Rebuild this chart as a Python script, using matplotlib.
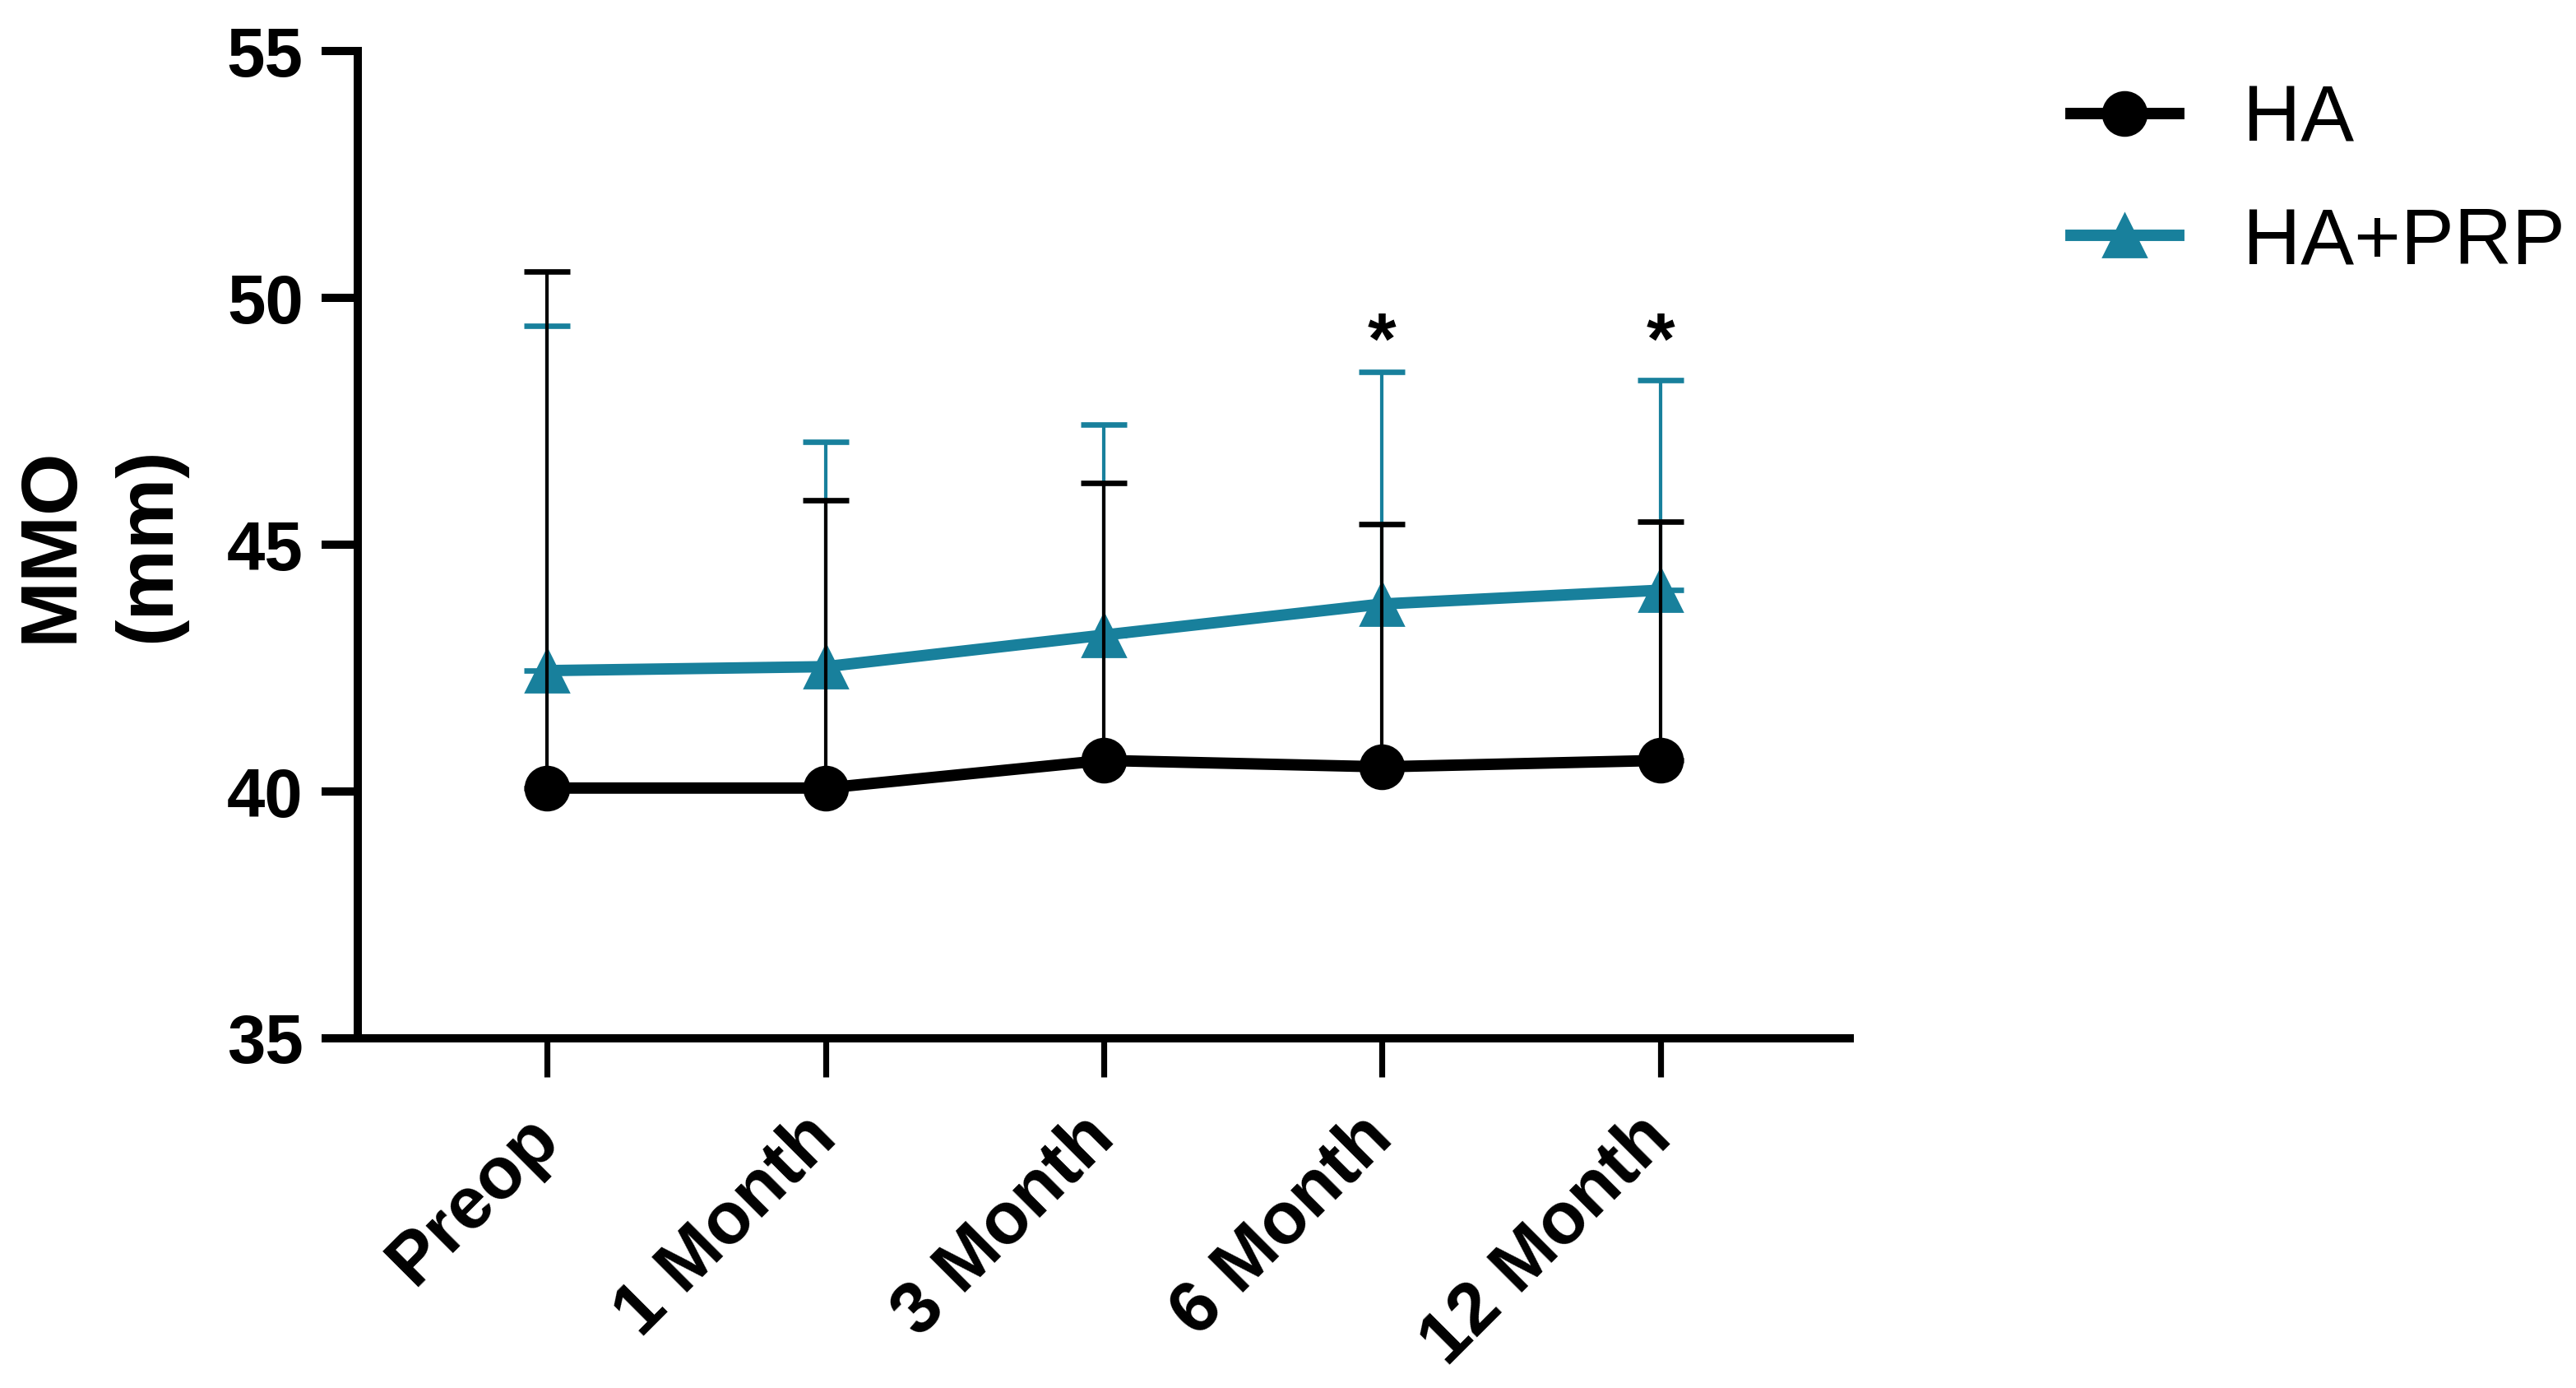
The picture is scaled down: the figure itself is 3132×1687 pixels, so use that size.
import matplotlib.pyplot as plt
import numpy as np

plt.rcParams['font.family'] = ['Liberation Sans', 'DejaVu Sans']

timepoints = ['Preop', '1 Month', '3 Month', '6 Month', '12 Month']
ha_mean = [40.07, 40.07, 40.63, 40.50, 40.63]
ha_upper = [50.53, 45.90, 46.25, 45.42, 45.47]
prp_mean = [42.45, 42.53, 43.17, 43.80, 44.08]
prp_upper = [49.44, 47.08, 47.43, 48.51, 48.34]
sig_points = ['6 Month', '12 Month']
sig_y = 49.05

teal = '#18809C'
x = np.arange(len(timepoints))

fig = plt.figure(figsize=(15.66, 8.435), dpi=200)
ax = fig.add_axes([0.139, 0.252, 0.579, 0.711])

ha_err = np.array(ha_upper) - np.array(ha_mean)
prp_err = np.array(prp_upper) - np.array(prp_mean)

# PRP first so the HA bars sit on top
ax.errorbar(x, prp_mean, yerr=[np.zeros(len(x)), prp_err], fmt='none',
            ecolor=teal, elinewidth=1.5, capsize=10, capthick=2.4, zorder=1)
ax.plot(x, prp_mean, color=teal, lw=5, marker='^', ms=19, zorder=2,
        label='HA+PRP')
ax.errorbar(x, ha_mean, yerr=[np.zeros(len(x)), ha_err], fmt='none',
            ecolor='black', elinewidth=1.5, capsize=10, capthick=2.4, zorder=3)
ax.plot(x, ha_mean, color='black', lw=5, marker='o', ms=19, zorder=4,
        label='HA')

for t in sig_points:
    ax.text(timepoints.index(t), sig_y, '*', ha='center', va='center',
            fontsize=32, fontweight='bold')

ax.set_xlim(-0.68, 4.68)
ax.set_ylim(35, 55)
ax.set_yticks([35, 40, 45, 50, 55])
ax.set_xticks(x)
ax.set_xticklabels(timepoints, rotation=45, ha='right', va='center',
                   rotation_mode='anchor', fontsize=32, fontweight='bold')
ax.tick_params(axis='x', length=17, width=2.6, pad=22)
ax.tick_params(axis='y', length=16, width=3.6, labelsize=30, pad=8)
for lab in ax.get_yticklabels():
    lab.set_fontweight('bold')

ax.spines['top'].set_visible(False)
ax.spines['right'].set_visible(False)
ax.spines['left'].set_linewidth(3.6)
ax.spines['bottom'].set_linewidth(3.6)

ax.set_ylabel('MMO\n(mm)', fontsize=35, fontweight='bold', labelpad=18,
              linespacing=1.4)

handles, labels = ax.get_legend_handles_labels()
ax.legend(handles[::-1], labels[::-1], loc='upper left',
          bbox_to_anchor=(1.1, 1.04), frameon=False, fontsize=35,
          handlelength=1.35, handletextpad=0.8, labelspacing=0.6)

fig.savefig('out.png', dpi=200)
